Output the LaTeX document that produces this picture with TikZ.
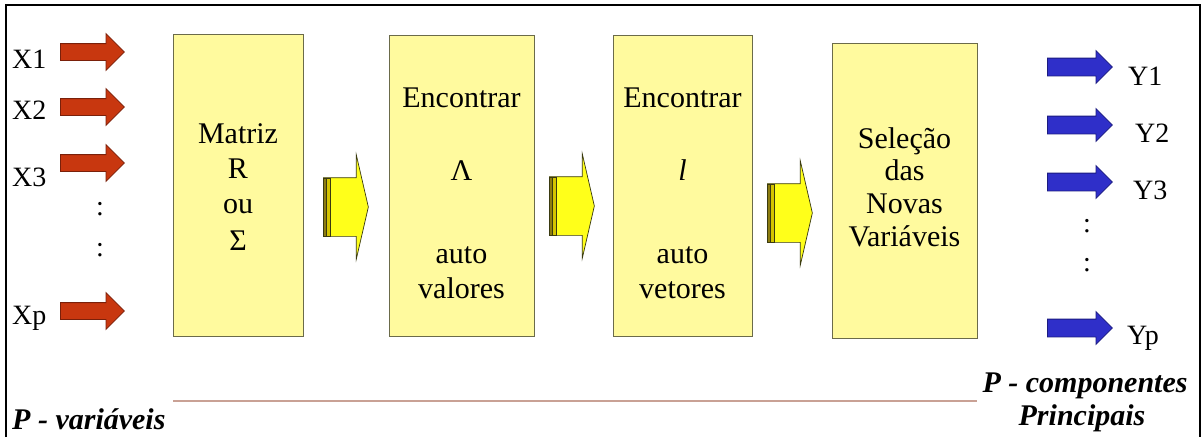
\documentclass[tikz,border=0pt]{standalone}
\usepackage{fontspec}
\setmainfont{Liberation Serif}
\usetikzlibrary{shapes.arrows,calc}
\definecolor{boxfill}{HTML}{FFFA9E}
\definecolor{boxline}{HTML}{6B6B4A}
\definecolor{redfill}{HTML}{C8370F}
\definecolor{redline}{HTML}{7A200A}
\definecolor{bluefill}{HTML}{2F2FC9}
\definecolor{blueline}{HTML}{1B1B80}
\definecolor{flowfill}{HTML}{FFFF1A}
\definecolor{flowline}{HTML}{3A3A10}
\definecolor{stripeA}{HTML}{8C7C10}
\definecolor{stripeB}{HTML}{D4C400}
\definecolor{rulecol}{HTML}{C9A195}
\begin{document}
\begin{tikzpicture}[x=1pt,y=-1pt,
  stagebox/.style={draw=boxline,line width=0.9pt,fill=boxfill,minimum width=#1,inner sep=0,anchor=north west},
  boxtext/.style={font=\fontsize{30}{34}\selectfont,anchor=base,inner sep=0},
  label/.style={font=\fontsize{28}{32}\selectfont,inner sep=0},
  dots/.style={font=\fontsize{28}{32}\selectfont,inner sep=0},
  inarrow/.style={single arrow,draw=redline,fill=redfill,line width=0.8pt,
    minimum height=64,inner xsep=0,inner ysep=8,single arrow head extend=10,anchor=tail},
  outarrow/.style={single arrow,draw=blueline,fill=bluefill,line width=0.8pt,
    minimum height=65,inner xsep=0,inner ysep=8.5,single arrow head extend=7.5,anchor=tail},
  flowarrow/.style={single arrow,draw=flowline,fill=flowfill,line width=0.7pt,
    minimum height=45,inner xsep=0,inner ysep=29,single arrow head extend=23,
    single arrow tip angle=154,anchor=tail},
  stripeA/.style={draw=flowline,line width=0.5pt,fill=stripeA},
  stripeB/.style={draw=flowline,line width=0.5pt,fill=stripeB},
  caption/.style={font=\fontsize{30}{32}\selectfont\bfseries\itshape,inner sep=0}]
\useasboundingbox (0,0) rectangle (1203,437);
\fill[white] (0,0) rectangle (1203,437);

% outer frame (open at the bottom)
\draw[black,line width=2pt] (6,437) -- (6,5) -- (1200,5) -- (1200,437);

% processing stages
\node[stagebox=130,minimum height=302] (b1) at (173,34) {};
\node[stagebox=145,minimum height=301] (b2) at (389,35) {};
\node[stagebox=139,minimum height=301] (b3) at (613,35) {};
\node[stagebox=145,minimum height=295] (b4) at (832,43) {};

\node[boxtext] (t11) at (238,143) {Matriz};
\node[boxtext] (t12) at (238,178) {R};
\node[boxtext] (t13) at (238,213) {ou};
\node[boxtext] (t14) at (238,250) {Σ};

\node[boxtext] (t21) at (461.5,107) {Encontrar};
\node[boxtext] (t22) at (461.5,180) {Λ};
\node[boxtext] (t23) at (461.5,263) {auto};
\node[boxtext] (t24) at (461.5,298) {valores};

\node[boxtext] (t31) at (682.5,107) {Encontrar};
\node[boxtext] (t32) at (682.5,180) {\textit{l}};
\node[boxtext] (t33) at (682.5,263) {auto};
\node[boxtext] (t34) at (682.5,298) {vetores};

\node[boxtext] (t41) at (904.5,148) {Seleção};
\node[boxtext] (t42) at (904.5,180) {das};
\node[boxtext] (t43) at (904.5,213) {Novas};
\node[boxtext] (t44) at (904.5,246) {Variáveis};

% flow arrows between stages
\foreach \n/\x/\c in {f1/323/207, f2/549/206, f3/767/213}{
  \node[flowarrow] (\n) at (\x,\c) {};
  \draw[stripeA] ($(\n.tail)+(0,-29)$) rectangle ++(3,58);
  \draw[stripeB] ($(\n.tail)+(3,-29)$) rectangle ++(4,58);
}

% input variables
\node[label,anchor=west] (x1) at (12,59) {X1};
\node[label,anchor=west] (x2) at (12,110) {X2};
\node[label,anchor=west] (x3) at (12,177) {X3};
\node[label,anchor=west] (xp) at (12,318) {Xp};
\node[inarrow] (a1) at (60,52) {};
\node[inarrow] (a2) at (60,107) {};
\node[inarrow] (a3) at (60,163) {};
\node[inarrow] (ap) at (60,311) {};
\node[dots] (xd1) at (100,209) {:};
\node[dots] (xd2) at (100,250) {:};

% principal components
\node[outarrow] (c1) at (1047,67) {};
\node[outarrow] (c2) at (1047,125) {};
\node[outarrow] (c3) at (1047,182) {};
\node[outarrow] (cp) at (1047,328) {};
\node[label,anchor=west] (y1) at (1128,76) {Y1};
\node[label,anchor=west] (y2) at (1135,133) {Y2};
\node[label,anchor=west] (y3) at (1133,190) {Y3};
\node[label,anchor=west] (yp) at (1127,338) {Yp};
\node[dots] (yd1) at (1087,226) {:};
\node[dots] (yd2) at (1087,265) {:};

% baseline rule and captions
\coordinate (rl) at (173,401);
\coordinate (rr) at (977,401);
\draw[rulecol,line width=2pt] (rl) -- (rr);
\node[caption,anchor=base west] (pv) at (12,429) {P - variáveis};
\node[caption,anchor=base] (pc) at (1085,392) {P - componentes};
\node[caption,anchor=base] (pp) at (1082,425) {Principais};
\end{tikzpicture}
\end{document}
